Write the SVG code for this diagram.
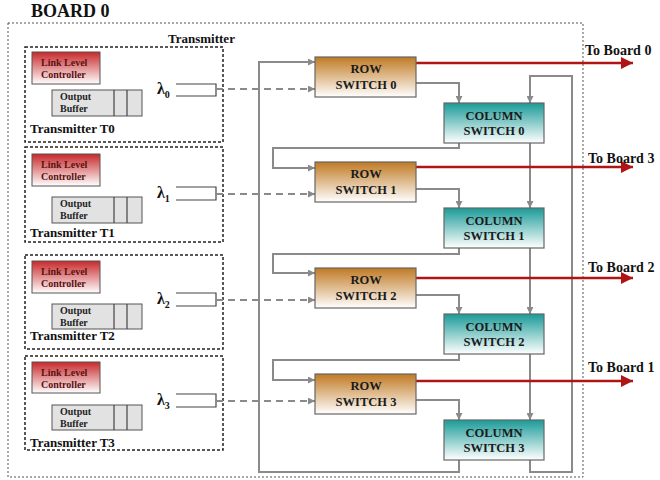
<svg xmlns="http://www.w3.org/2000/svg" width="660" height="480" viewBox="0 0 660 480">
<defs>
<linearGradient id="gRed" x1="0" y1="0" x2="0" y2="1"><stop offset="0" stop-color="#c8282a"/><stop offset="1" stop-color="#ffffff"/></linearGradient>
<linearGradient id="gRow" x1="0" y1="0" x2="0" y2="1"><stop offset="0" stop-color="#c07a24"/><stop offset="1" stop-color="#ffffff"/></linearGradient>
<linearGradient id="gCol" x1="0" y1="0" x2="0" y2="1"><stop offset="0" stop-color="#1a9b98"/><stop offset="1" stop-color="#ffffff"/></linearGradient>
<marker id="ag" viewBox="0 0 10 10" refX="10" refY="5" markerWidth="9" markerHeight="7" markerUnits="userSpaceOnUse" orient="auto"><path d="M0,0 L10,5 L0,10 z" fill="#8a8a8a"/></marker>
<marker id="ar" viewBox="0 0 10 10" refX="10" refY="5" markerWidth="14" markerHeight="12" markerUnits="userSpaceOnUse" orient="auto"><path d="M0,0 L10,5 L0,10 z" fill="#b01515"/></marker>
</defs>
<style>
text{font-family:"Liberation Serif","Times New Roman",serif;font-weight:bold;}
.board{fill:none;stroke:#555;stroke-width:1;stroke-dasharray:2 2;}
.tx{fill:none;stroke:#222;stroke-width:1.5;stroke-dasharray:3 2;}
.llc{fill:url(#gRed);stroke:#555;stroke-width:1;}
.llct{font-size:10px;fill:#5a1212;}
.buf{fill:#e2e2e2;stroke:#555;stroke-width:1;}
.buft{font-size:10px;fill:#222;}
.txl{font-size:13px;fill:#111;}
.lam{font-size:16px;fill:#111;}
.brk{fill:none;stroke:#444;stroke-width:1.2;}
.row{fill:url(#gRow);stroke:#666;stroke-width:1.2;}
.col{fill:url(#gCol);stroke:#666;stroke-width:1.2;}
.sw{font-size:12.5px;fill:#1a1a1a;text-anchor:middle;}
.g{fill:none;stroke:#8a8a8a;stroke-width:2;}
.ga{fill:none;stroke:#8a8a8a;stroke-width:2;marker-end:url(#ag);}
.da{fill:none;stroke:#8a8a8a;stroke-width:2;stroke-dasharray:7 5;marker-end:url(#ag);}
.ra{fill:none;stroke:#b01515;stroke-width:2.5;marker-end:url(#ar);}
.tb{font-size:14px;fill:#111;}
</style>

<text x="31" y="17" style="font-size:18px" fill="#111">BOARD 0</text>
<rect class="board" x="8" y="23" width="575" height="454"/>
<text x="168" y="43" style="font-size:13px" fill="#111">Transmitter</text>

<g id="transmitter-t0">
<rect class="tx" x="25" y="47" width="198" height="95"/>
<rect class="llc" x="32" y="52" width="68" height="32"/>
<text class="llct" x="41" y="66">Link Level</text><text class="llct" x="41" y="78">Controller</text>
<rect class="buf" x="52" y="90" width="90" height="26"/><path class="brk" d="M114,90V116M127,90V116"/>
<text class="buft" x="60" y="100">Output</text><text class="buft" x="60" y="112">Buffer</text>
<text class="txl" x="30" y="133">Transmitter T0</text>
<text class="lam" x="157" y="94">λ<tspan dy="4" style="font-size:10px">0</tspan></text>
<path class="brk" d="M176,84H216V96H176"/>
</g>

<g id="transmitter-t1">
<rect class="tx" x="25" y="147" width="198" height="95"/>
<rect class="llc" x="32" y="154" width="68" height="32"/>
<text class="llct" x="41" y="168">Link Level</text><text class="llct" x="41" y="180">Controller</text>
<rect class="buf" x="52" y="197" width="90" height="26"/><path class="brk" d="M114,197V223M127,197V223"/>
<text class="buft" x="60" y="207">Output</text><text class="buft" x="60" y="219">Buffer</text>
<text class="txl" x="30" y="237">Transmitter T1</text>
<text class="lam" x="157" y="198">λ<tspan dy="4" style="font-size:10px">1</tspan></text>
<path class="brk" d="M176,187H216V200H176"/>
</g>

<g id="transmitter-t2">
<rect class="tx" x="25" y="255" width="198" height="94"/>
<rect class="llc" x="32" y="261" width="68" height="32"/>
<text class="llct" x="41" y="275">Link Level</text><text class="llct" x="41" y="287">Controller</text>
<rect class="buf" x="52" y="304" width="90" height="25"/><path class="brk" d="M114,304V329M127,304V329"/>
<text class="buft" x="60" y="314">Output</text><text class="buft" x="60" y="326">Buffer</text>
<text class="txl" x="30" y="340">Transmitter T2</text>
<text class="lam" x="157" y="304">λ<tspan dy="4" style="font-size:10px">2</tspan></text>
<path class="brk" d="M176,293H216V306H176"/>
</g>

<g id="transmitter-t3">
<rect class="tx" x="25" y="356" width="198" height="94"/>
<rect class="llc" x="32" y="362" width="68" height="31"/>
<text class="llct" x="41" y="376">Link Level</text><text class="llct" x="41" y="388">Controller</text>
<rect class="buf" x="52" y="405" width="90" height="25"/><path class="brk" d="M114,405V430M127,405V430"/>
<text class="buft" x="60" y="415">Output</text><text class="buft" x="60" y="427">Buffer</text>
<text class="txl" x="30" y="447">Transmitter T3</text>
<text class="lam" x="157" y="405">λ<tspan dy="4" style="font-size:10px">3</tspan></text>
<path class="brk" d="M176,394H216V407H176"/>
</g>

<g id="connectors">
<path class="da" d="M216,89H315"/>
<path class="da" d="M216,194H315"/>
<path class="da" d="M216,300H315"/>
<path class="da" d="M216,401H315"/>
<path class="ga" d="M459,460V472H259V62H315"/>
<path class="ga" d="M530,460V472H572V76H530V103"/>
<path class="ga" d="M416,83H459V103"/>
<path class="ga" d="M416,189H459V208"/>
<path class="ga" d="M416,295H459V314"/>
<path class="ga" d="M416,400H459V420"/>
<path class="ga" d="M459,143V148H273V168H315"/>
<path class="ga" d="M459,248V254H273V273H315"/>
<path class="ga" d="M459,354V360H273V380H315"/>
<path class="ga" d="M530,143V208"/>
<path class="ga" d="M530,248V314"/>
<path class="ga" d="M530,354V420"/>
<path class="ra" d="M416,63H633"/>
<path class="ra" d="M416,167H633"/>
<path class="ra" d="M416,278H633"/>
<path class="ra" d="M416,381H633"/>
</g>

<g id="row-switch-0"><rect class="row" x="315" y="57" width="101" height="40"/><text class="sw" x="366" y="73">ROW</text><text class="sw" x="366" y="89">SWITCH 0</text></g>
<g id="row-switch-1"><rect class="row" x="315" y="162" width="101" height="40"/><text class="sw" x="366" y="178">ROW</text><text class="sw" x="366" y="194">SWITCH 1</text></g>
<g id="row-switch-2"><rect class="row" x="315" y="268" width="101" height="40"/><text class="sw" x="366" y="284">ROW</text><text class="sw" x="366" y="300">SWITCH 2</text></g>
<g id="row-switch-3"><rect class="row" x="315" y="374" width="101" height="40"/><text class="sw" x="366" y="390">ROW</text><text class="sw" x="366" y="406">SWITCH 3</text></g>

<g id="column-switch-0"><rect class="col" x="444" y="103" width="100" height="40"/><text class="sw" x="494" y="120">COLUMN</text><text class="sw" x="494" y="135">SWITCH 0</text></g>
<g id="column-switch-1"><rect class="col" x="444" y="208" width="100" height="40"/><text class="sw" x="494" y="225">COLUMN</text><text class="sw" x="494" y="240">SWITCH 1</text></g>
<g id="column-switch-2"><rect class="col" x="444" y="314" width="100" height="40"/><text class="sw" x="494" y="331">COLUMN</text><text class="sw" x="494" y="346">SWITCH 2</text></g>
<g id="column-switch-3"><rect class="col" x="444" y="420" width="100" height="40"/><text class="sw" x="494" y="437">COLUMN</text><text class="sw" x="494" y="452">SWITCH 3</text></g>

<text class="tb" x="585" y="55">To Board 0</text>
<text class="tb" x="588" y="163">To Board 3</text>
<text class="tb" x="588" y="272">To Board 2</text>
<text class="tb" x="588" y="372">To Board 1</text>
</svg>
